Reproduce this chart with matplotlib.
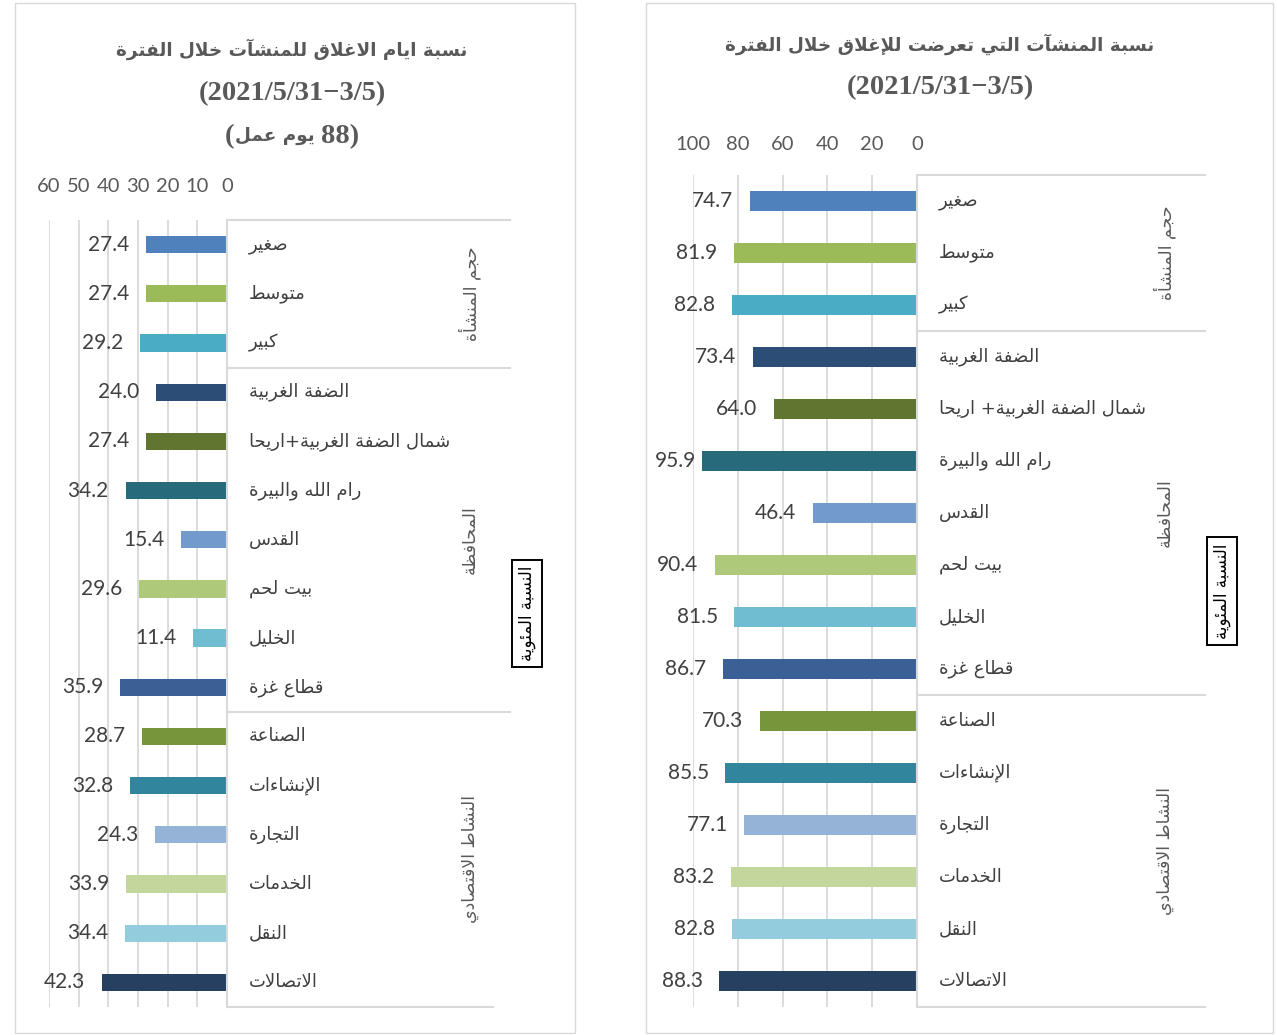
import re
import matplotlib
matplotlib.use("Agg")
import matplotlib.pyplot as plt
from matplotlib.patches import Rectangle

# ---------------- data ----------------
categories_left = ['صغير', 'متوسط', 'كبير', 'الضفة الغربية', 'شمال الضفة الغربية+اريحا',
                   'رام الله والبيرة', 'القدس', 'بيت لحم', 'الخليل', 'قطاع غزة',
                   'الصناعة', 'الإنشاءات', 'التجارة', 'الخدمات', 'النقل', 'الاتصالات']
categories_right = ['صغير', 'متوسط', 'كبير', 'الضفة الغربية', 'شمال الضفة الغربية+ اريحا',
                    'رام الله والبيرة', 'القدس', 'بيت لحم', 'الخليل', 'قطاع غزة',
                    'الصناعة', 'الإنشاءات', 'التجارة', 'الخدمات', 'النقل', 'الاتصالات']
group_names = ['حجم المنشأة', 'المحافظة', 'النشاط الاقتصادي']
group_sizes = [3, 7, 6]

closure_days_pct = [27.4, 27.4, 29.2, 24.0, 27.4, 34.2, 15.4, 29.6, 11.4, 35.9,
                    28.7, 32.8, 24.3, 33.9, 34.4, 42.3]
closed_estab_pct = [74.7, 81.9, 82.8, 73.4, 64.0, 95.9, 46.4, 90.4, 81.5, 86.7,
                    70.3, 85.5, 77.1, 83.2, 82.8, 88.3]

left_ticks = [0, 10, 20, 30, 40, 50, 60]
right_ticks = [0, 20, 40, 60, 80, 100]

left_title = ['نسبة ايام الاغلاق للمنشآت خلال الفترة', '(2021/5/31−3/5)', '(88 يوم عمل)']
right_title = ['نسبة المنشآت التي تعرضت للإغلاق خلال الفترة', '(2021/5/31−3/5)']
axis_title = 'النسبة المئوية'

bar_colors = ['#4F81BD', '#9BBB59', '#4BACC6', '#2C4D75', '#5F7530', '#276A7C',
              '#729ACA', '#AFC97A', '#6FBDD1', '#3A6096', '#77963C', '#31859C',
              '#95B3D7', '#C3D69B', '#93CDDD', '#254061']

# ---------------- Arabic shaping (presentation forms) ----------------
_FORMS = {
    0x0621: (0xFE80, 1), 0x0622: (0xFE81, 2), 0x0623: (0xFE83, 2), 0x0624: (0xFE85, 2),
    0x0625: (0xFE87, 2), 0x0626: (0xFE89, 4), 0x0627: (0xFE8D, 2), 0x0628: (0xFE8F, 4),
    0x0629: (0xFE93, 2), 0x062A: (0xFE95, 4), 0x062B: (0xFE99, 4), 0x062C: (0xFE9D, 4),
    0x062D: (0xFEA1, 4), 0x062E: (0xFEA5, 4), 0x062F: (0xFEA9, 2), 0x0630: (0xFEAB, 2),
    0x0631: (0xFEAD, 2), 0x0632: (0xFEAF, 2), 0x0633: (0xFEB1, 4), 0x0634: (0xFEB5, 4),
    0x0635: (0xFEB9, 4), 0x0636: (0xFEBD, 4), 0x0637: (0xFEC1, 4), 0x0638: (0xFEC5, 4),
    0x0639: (0xFEC9, 4), 0x063A: (0xFECD, 4), 0x0641: (0xFED1, 4), 0x0642: (0xFED5, 4),
    0x0643: (0xFED9, 4), 0x0644: (0xFEDD, 4), 0x0645: (0xFEE1, 4), 0x0646: (0xFEE5, 4),
    0x0647: (0xFEE9, 4), 0x0648: (0xFEED, 2), 0x0649: (0xFEEF, 2), 0x064A: (0xFEF1, 4),
}
_LAM_ALEF = {0x0622: 0xFEF5, 0x0623: 0xFEF7, 0x0625: 0xFEF9, 0x0627: 0xFEFB}


def _shape(s):
    items = []
    i = 0
    while i < len(s):
        c = s[i]
        if ord(c) == 0x0644 and i + 1 < len(s) and ord(s[i + 1]) in _LAM_ALEF:
            items.append(('LA', _LAM_ALEF[ord(s[i + 1])]))
            i += 2
        else:
            items.append(('C', c))
            i += 1

    def dual(it):
        return it[0] == 'C' and ord(it[1]) in _FORMS and _FORMS[ord(it[1])][1] == 4

    def joining(it):
        return it[0] == 'LA' or (ord(it[1]) in _FORMS and _FORMS[ord(it[1])][1] >= 2)

    out = []
    for k, it in enumerate(items):
        pj = k > 0 and dual(items[k - 1]) and joining(it)
        nj = k + 1 < len(items) and dual(it) and joining(items[k + 1])
        if it[0] == 'LA':
            out.append(chr(it[1] + (1 if pj else 0)))
            continue
        o = ord(it[1])
        if o not in _FORMS:
            out.append(it[1])
            continue
        base, n = _FORMS[o]
        if n == 1:
            out.append(chr(base))
            continue
        if pj and nj:
            f = 3
        elif pj:
            f = 1
        elif nj:
            f = 2
        else:
            f = 0
        out.append(chr(base + f))
    return ''.join(out)


def rtl(s):
    r = _shape(s)[::-1]
    r = r.translate(str.maketrans('()', ')('))
    r = re.sub(r'[0-9A-Za-z][0-9A-Za-z./\-−]*[0-9A-Za-z]|[0-9A-Za-z]',
               lambda m: m.group(0)[::-1], r)
    return r


def has_arabic(s):
    return any(0x0600 <= ord(c) <= 0x06FF or 0xFB50 <= ord(c) <= 0xFEFF for c in s)


# ---------------- figure ----------------
W, H = 1277, 1035
fig = plt.figure(figsize=(W / 100, H / 100), dpi=100)
fig.patch.set_facecolor('white')
renderer = fig.canvas.get_renderer()

AR = ['DejaVu Sans']
NUM = ['Lato', 'DejaVu Sans']
SERIF = ['Liberation Serif', 'DejaVu Sans']
GRID = '#D9D9D9'
TITLE_COLOR = '#595959'


def rect(x0, y0, x1, y1):
    return [x0 / W, 1 - y1 / H, (x1 - x0) / W, (y1 - y0) / H]


def title_line(line, cx, y):
    """Draw a title line: Arabic runs in DejaVu Sans bold (smaller), others in serif bold."""
    vis = rtl(line)
    # split into runs of Arabic / non-Arabic (spaces attach to current run)
    runs = []
    for ch in vis:
        a = has_arabic(ch)
        if ch == ' ' and runs:
            runs[-1][0] += ch
            continue
        if runs and runs[-1][1] == a:
            runs[-1][0] += ch
        else:
            runs.append([ch, a])
    texts = []
    for s, a in runs:
        if a:
            t = fig.text(0, 1 - y / H, s, family=AR, fontsize=13.2, fontweight='bold',
                         color=TITLE_COLOR, ha='left', va='center_baseline')
        else:
            t = fig.text(0, 1 - y / H, s, family=SERIF, fontsize=20.5, fontweight='bold',
                         color=TITLE_COLOR, ha='left', va='center_baseline')
        texts.append(t)
    widths = [t.get_window_extent(renderer).width for t in texts]
    total = sum(widths)
    x = cx - total / 2
    for t, w in zip(texts, widths):
        t.set_x(x / W)
        x += w


def draw_panel(frame, plot_x, plot_y, cat_x1, bottom_x1, values, cats, ticks, xmax,
               bar_h, tick_pad, title_lines, title_cx, title_ys, label_dx, group_dx, box_dx,
               label_min_x):
    fig.add_artist(Rectangle((frame[0] / W, 1 - frame[3] / H),
                             (frame[2] - frame[0]) / W, (frame[3] - frame[1]) / H,
                             transform=fig.transFigure, fill=False, ec='#D9D9D9', lw=1.0))
    n = len(values)
    ax = fig.add_axes(rect(plot_x[0], plot_y[0], plot_x[1], plot_y[1]))
    pos = list(range(n))
    ax.barh(pos, values, height=bar_h, color=bar_colors, zorder=3)
    ax.set_xlim(xmax, 0)
    ax.set_ylim(n - 0.5, -0.5)
    ax.set_xticks(ticks)
    ax.set_xticklabels([str(t) for t in ticks], family=NUM, fontsize=14.5, color='#595959')
    ax.xaxis.set_ticks_position('top')
    ax.tick_params(axis='x', length=0, pad=tick_pad)
    ax.set_yticks([])
    ax.grid(axis='x', color=GRID, lw=1.3, zorder=0)
    for sp in ax.spines.values():
        sp.set_visible(False)
    for p, v in zip(pos, values):
        t = ax.annotate(f'{v:.1f}', (v, p), xytext=(-12, 0), textcoords='offset points',
                        ha='right', va='center', family=NUM, fontsize=15, color='#404040',
                        annotation_clip=False)
        bb = t.get_window_extent(renderer)
        if bb.x0 < label_min_x:
            shift_pt = (label_min_x - bb.x0) * 72 / 100
            t.xyann = (-12 + shift_pt, 0)

    # category area
    cw = cat_x1 - plot_x[1]
    ax2 = fig.add_axes(rect(plot_x[1], plot_y[0], cat_x1, plot_y[1]))
    ax2.set_xlim(0, cw)
    ax2.set_ylim(n - 0.5, -0.5)
    ax2.axis('off')
    ax2.plot([0, 0], [-0.5, n - 0.5], color=GRID, lw=1.5, clip_on=False)
    ax2.plot([0, cw], [-0.5, -0.5], color=GRID, lw=1.5, clip_on=False)
    ax2.plot([0, bottom_x1 - plot_x[1]], [n - 0.5, n - 0.5], color=GRID, lw=1.5, clip_on=False)
    start = 0
    for g, sz in zip(group_names, group_sizes):
        end = start + sz
        if end < n:
            ax2.plot([0, cw], [end - 0.5, end - 0.5], color=GRID, lw=1.5, clip_on=False)
        ax2.text(group_dx, (start + end - 1) / 2, rtl(g), rotation=90, ha='center', va='center',
                 family=AR, fontsize=12.5, color='#595959', clip_on=False)
        start = end
    for p, c in zip(pos, cats):
        ax2.text(label_dx, p, rtl(c), ha='left', va='center', family=AR, fontsize=13,
                 color='#404040', clip_on=False)
    ax2.text(box_dx, (n - 1) / 2, rtl(axis_title), rotation=90, ha='center', va='center',
             family=AR, fontsize=12, color='black', clip_on=False,
             bbox=dict(boxstyle='square,pad=0.35', fc='white', ec='black', lw=1.4))

    for line, y in zip(title_lines, title_ys):
        title_line(line, title_cx, y)


draw_panel(frame=(15, 3, 575, 1033), plot_x=(49, 227), plot_y=(220, 1007), cat_x1=510,
           bottom_x1=493, values=closure_days_pct, cats=categories_left, ticks=left_ticks,
           xmax=60, bar_h=0.35, tick_pad=18, title_lines=left_title, title_cx=292,
           title_ys=[47, 91, 134], label_dx=22, group_dx=243, box_dx=300, label_min_x=42)

draw_panel(frame=(646, 3, 1273, 1033), plot_x=(693, 917), plot_y=(175, 1007), cat_x1=1205,
           bottom_x1=1205, values=closed_estab_pct, cats=categories_right, ticks=right_ticks,
           xmax=100, bar_h=0.37, tick_pad=16, title_lines=right_title, title_cx=940,
           title_ys=[42, 85], label_dx=22, group_dx=248, box_dx=305, label_min_x=655)

fig.savefig('out.png', dpi=100, facecolor='white')
